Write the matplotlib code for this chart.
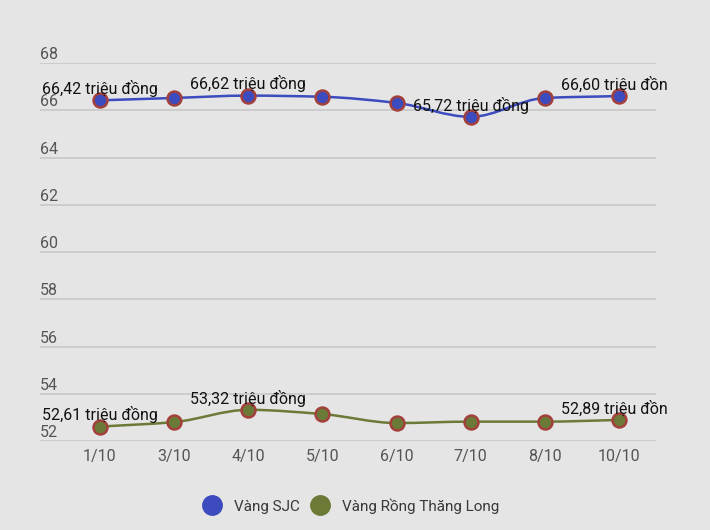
import numpy as np
import matplotlib
matplotlib.use("Agg")
import matplotlib.pyplot as plt
from matplotlib.path import Path
from matplotlib.patches import PathPatch, Rectangle
from matplotlib.lines import Line2D

plt.rcParams['font.family'] = ['Roboto', 'DejaVu Sans']

dates = ["1/10", "3/10", "4/10", "5/10", "6/10", "7/10", "8/10", "10/10"]
sjc = [66.42, 66.52, 66.62, 66.57, 66.31, 65.72, 66.52, 66.60]
rong = [52.61, 52.80, 53.32, 53.14, 52.76, 52.82, 52.82, 52.89]
sjc_labels = {0: "66,42 triệu đồng", 2: "66,62 triệu đồng", 5: "65,72 triệu đồng", 7: "66,60 triệu đồng"}
rong_labels = {0: "52,61 triệu đồng", 2: "53,32 triệu đồng", 7: "52,89 triệu đồng"}
yticks = [52, 54, 56, 58, 60, 62, 64, 66, 68]
series_names = ["Vàng SJC", "Vàng Rồng Thăng Long"]

BG = "#e5e5e5"
BLUE = "#3c4bbd"
GREEN = "#6b7a36"
EDGE = "#a3403c"

fig = plt.figure(figsize=(7.1, 5.3), dpi=100, facecolor=BG)
W, H = 710, 530
ax = fig.add_axes([40 / W, 1 - 441 / H, (656 - 40) / W, (441 - 63) / H])
ax.set_facecolor(BG)
for s in ax.spines.values():
    s.set_visible(False)

x = np.arange(len(dates))
ax.set_xlim(-0.809, 7.5)
ax.set_ylim(52, 68)


def monotone_path(xs, ys):
    xs = np.asarray(xs, float)
    ys = np.asarray(ys, float)
    n = len(xs)
    h = np.diff(xs)
    d = np.diff(ys) / h
    m = np.zeros(n)
    m[0] = d[0]
    m[-1] = d[-1]
    for i in range(1, n - 1):
        if d[i - 1] * d[i] <= 0:
            m[i] = 0
        else:
            m[i] = 3 * (h[i - 1] + h[i]) / ((2 * h[i] + h[i - 1]) / d[i - 1] + (h[i] + 2 * h[i - 1]) / d[i])
    verts = [(xs[0], ys[0])]
    codes = [Path.MOVETO]
    for i in range(n - 1):
        dx = h[i] / 3
        verts += [(xs[i] + dx, ys[i] + m[i] * dx), (xs[i + 1] - dx, ys[i + 1] - m[i + 1] * dx), (xs[i + 1], ys[i + 1])]
        codes += [Path.CURVE4] * 3
    return Path(verts, codes)


ax.set_yticks(yticks)
ax.set_yticklabels([])
ax.tick_params(axis='y', length=0)
ax.grid(axis='y', color="#c8c8c8", linewidth=1.2)
ax.set_axisbelow(True)
for v in yticks:
    ax.annotate(str(v), xy=(0, v), xycoords=ax.get_yaxis_transform(), xytext=(0, 6),
                textcoords='offset points', ha='left', va='center', fontsize=11.5, color="#555555")

ax.set_xticks(x)
ax.set_xticklabels(dates, fontsize=11.5, color="#555555")
ax.tick_params(axis='x', length=0, pad=6)

clip_rect = Rectangle((0, 0), 668, H, transform=None)

for vals, col, labels in [(sjc, BLUE, sjc_labels), (rong, GREEN, rong_labels)]:
    p = PathPatch(monotone_path(x, vals), facecolor='none', edgecolor=col, linewidth=1.8, clip_on=False)
    ax.add_patch(p)
    ax.plot(x, vals, 'o', markersize=10, markerfacecolor=col, markeredgecolor=EDGE,
            markeredgewidth=1.8, linestyle='none', clip_on=False, zorder=3)
    for i, t in labels.items():
        a = ax.annotate(t, xy=(x[i], vals[i]), xytext=(0, 8.5), textcoords='offset points',
                        ha='center', va='center', fontsize=11.5, color="#111111", zorder=4)
        a.set_clip_path(clip_rect)

handles = [Line2D([], [], marker='o', linestyle='none', markersize=14, markerfacecolor=c, markeredgecolor=c)
           for c in (BLUE, GREEN)]
fig.legend(handles, series_names, loc='center', bbox_to_anchor=(348 / W, 1 - 506 / H), ncol=2,
           frameon=False, fontsize=11, handletextpad=0.4, columnspacing=0.35,
           labelcolor="#383838")

fig.savefig("out.png", dpi=100, facecolor=BG)
